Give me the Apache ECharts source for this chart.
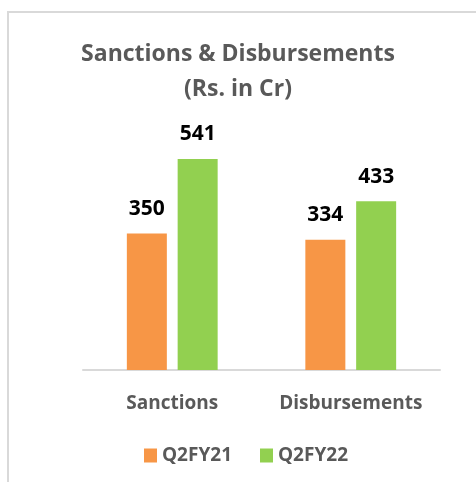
<!DOCTYPE html>
<html>
<head>
<meta charset="utf-8">
<script src="https://cdn.jsdelivr.net/npm/echarts@6/dist/echarts.min.js"></script>
<style>
  html, body { margin: 0; padding: 0; background: #fff; }
  #main { width: 476px; height: 482px; }
</style>
</head>
<body>
<div id="main"></div>
<script>
var categories = ["Sanctions", "Disbursements"];
var seriesNames = ["Q2FY21", "Q2FY22"];
var q2fy21 = [350, 334];
var q2fy22 = [541, 433];

var font = "'Open Sans', sans-serif";
var chart = echarts.init(document.getElementById("main"));

var labelStyle = {
    show: true,
    position: "top",
    distance: 14,
    color: "#000",
    fontWeight: "bold",
    fontSize: 21,
    fontFamily: font
};

var option = {
    animation: false,
    graphic: [{
        type: "rect",
        shape: { x: 8, y: 12, width: 480, height: 480 },
        style: { fill: "none", stroke: "#d9d9d9", lineWidth: 2 }
    }],
    title: {
        text: "Sanctions & Disbursements\n(Rs. in Cr)",
        left: "center",
        top: 32,
        textStyle: {
            color: "#595959",
            fontWeight: "bold",
            fontSize: 23,
            fontFamily: font,
            lineHeight: 35
        }
    },
    legend: {
        bottom: 12,
        left: 139,
        itemWidth: 13,
        itemHeight: 14,
        itemGap: 28,
        icon: "rect",
        textStyle: {
            color: "#595959",
            fontWeight: "bold",
            fontSize: 19,
            fontFamily: font
        },
        data: seriesNames
    },
    grid: {
        left: 83,
        right: 36,
        top: 136,
        bottom: 112,
        containLabel: false
    },
    xAxis: {
        type: "category",
        data: categories,
        axisLine: { lineStyle: { color: "#d9d9d9", width: 2 } },
        axisTick: { show: false },
        axisLabel: {
            interval: 0,
            hideOverlap: false,
            margin: 24,
            color: "#595959",
            fontWeight: "bold",
            fontSize: 19,
            fontFamily: font
        }
    },
    yAxis: {
        type: "value",
        min: 0,
        max: 600,
        show: false,
        splitLine: { show: false }
    },
    series: [
        {
            name: seriesNames[0],
            type: "bar",
            data: q2fy21,
            barWidth: 40,
            barGap: "27%",
            itemStyle: { color: "#f79646" },
            label: labelStyle
        },
        {
            name: seriesNames[1],
            type: "bar",
            data: q2fy22,
            barWidth: 40,
            itemStyle: { color: "#92d050" },
            label: labelStyle
        }
    ]
};

chart.setOption(option);
</script>
</body>
</html>
